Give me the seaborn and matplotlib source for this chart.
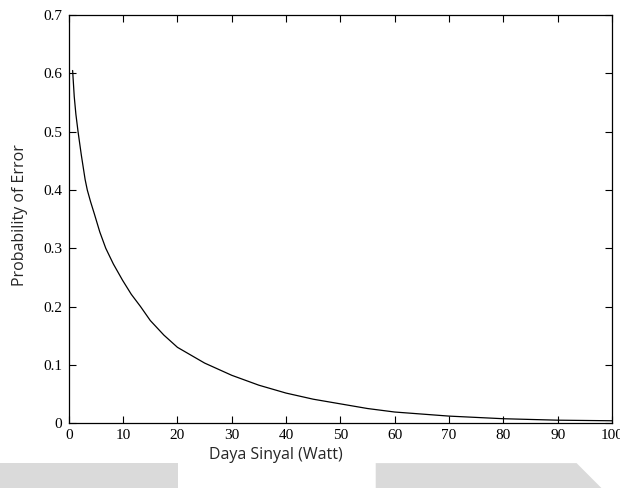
import numpy as np
import pandas as pd
import matplotlib
matplotlib.use("Agg")
import matplotlib.pyplot as plt
import seaborn as sns
from matplotlib.patches import Polygon

# nilai
daya = [0.7, 1, 1.3, 1.7, 2.3, 3, 3.4, 4, 4.7, 5.7, 6.8, 8.2, 9.9, 11.5, 13.2,
        15, 17.5, 20, 25, 30, 35, 40, 45, 50, 55, 60, 70, 80, 90, 100]
pe = [0.605, 0.56, 0.53, 0.50, 0.46, 0.418, 0.40, 0.38, 0.359, 0.328, 0.30,
      0.273, 0.245, 0.221, 0.20, 0.176, 0.151, 0.13, 0.103, 0.082, 0.065,
      0.0515, 0.041, 0.033, 0.025, 0.019, 0.012, 0.0075, 0.005, 0.004]
x_ticks = [0, 10, 20, 30, 40, 50, 60, 70, 80, 90, 100]
y_ticks = [0, 0.1, 0.2, 0.3, 0.4, 0.5, 0.6, 0.7]
y_labels = ["0", "0.1", "0.2", "0.3", "0.4", "0.5", "0.6", "0.7"]

df = pd.DataFrame({"daya": daya, "pe": pe})

sns.set_style("ticks")
plt.rcParams["font.family"] = ["Liberation Serif", "DejaVu Serif"]

fig = plt.figure(figsize=(6.2, 4.88), dpi=100)

# latar watermark abu-abu
for pts in ([(0, 0), (0.287, 0), (0.287, 0.051), (0, 0.051)],
            [(0.606, 0), (0.97, 0), (0.93, 0.051), (0.606, 0.051)]):
    fig.patches.append(Polygon(pts, closed=True, transform=fig.transFigure,
                               facecolor="#dadada", edgecolor="none", zorder=0))

ax = fig.add_axes([0.111, 0.133, 0.876, 0.836])
sns.lineplot(data=df, x="daya", y="pe", ax=ax, color="black", linewidth=0.9)

ax.set_xlim(0, 100)
ax.set_ylim(0, 0.7)
ax.set_xticks(x_ticks)
ax.set_yticks(y_ticks)
ax.set_yticklabels(y_labels)
ax.tick_params(direction="in", length=5, width=0.8, top=True, right=True,
               labelsize=11, colors="black")
ax.tick_params(axis="x", pad=4)
ax.tick_params(axis="y", pad=5)
for s in ax.spines.values():
    s.set_linewidth(0.9)
    s.set_color("black")
ax.set_xlabel("")
ax.set_ylabel("")

fig.text(0.445, 0.068, "Daya Sinyal (Watt)", ha="center", va="center",
         fontsize=11.5, family=["Open Sans", "DejaVu Sans"])
fig.text(0.033, 0.56, "Probability of Error", ha="center", va="center",
         rotation=90, fontsize=11.5, family=["Open Sans", "DejaVu Sans"])

fig.savefig("out.png", dpi=100)
